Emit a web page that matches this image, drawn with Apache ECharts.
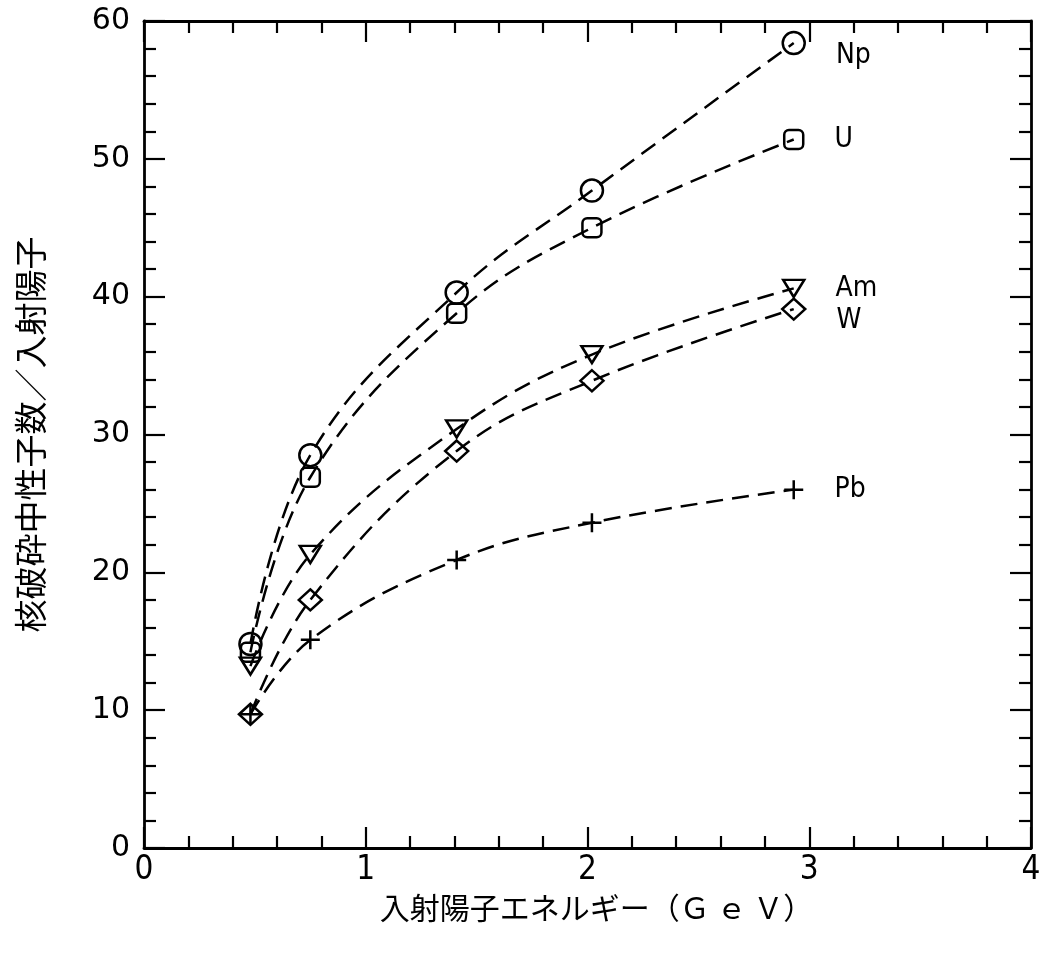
<!DOCTYPE html>
<html>
<head>
<meta charset="utf-8">
<script src="https://cdn.jsdelivr.net/npm/echarts@6/dist/echarts.min.js"></script>
<style>
html,body{margin:0;padding:0;background:#fff;}
#chart{width:1045px;height:960px;}
</style>
</head>
<body>
<div id="chart"></div>
<script>
// ---- data ----
const energies = [0.48, 0.75, 1.41, 2.02, 2.93];
const seriesNames = ['Np', 'U', 'Am', 'W', 'Pb'];
const npValues = [14.8, 28.5, 40.3, 47.7, 58.4];
const uValues  = [14.2, 26.9, 38.8, 45.0, 51.4];
const amValues = [13.2, 21.3, 30.4, 35.8, 40.6];
const wValues  = [9.7, 18.0, 28.8, 33.9, 39.1];
const pbValues = [9.7, 15.1, 20.9, 23.6, 26.0];
const xTickLabels = ['0', '1', '2', '3', '4'];
const yTickLabels = ['0', '10', '20', '30', '40', '50', '60'];
const xAxisTitle = '入射陽子エネルギー（Ｇ ｅ Ｖ）';
const yAxisTitle = '核破砕中性子数／入射陽子';

// ---- styles ----
const valuesByName = {Np: npValues, U: uValues, Am: amValues, W: wValues, Pb: pbValues};
const PLUS = 'path://M10,0L10,20M0,10L20,10';
const styleByName = {
  Np: {symbol: 'circle', size: 22, rotate: 0, labelDy: 13},
  U:  {symbol: 'roundRect', size: 19, rotate: 0, labelDy: 0},
  Am: {symbol: 'triangle', size: [21, 17], rotate: 180, labelDy: 0},
  W:  {symbol: 'diamond', size: [23, 21], rotate: 0, labelDy: 12},
  Pb: {symbol: PLUS, size: 19, rotate: 0, labelDy: 0}
};
const FONT = '"DejaVu Sans", "Liberation Sans", sans-serif';
const NARROW = '"Liberation Sans Narrow", "DejaVu Sans Condensed", "Liberation Sans", sans-serif';
const CJK = '"Noto Sans CJK JP", "Noto Sans CJK SC", sans-serif';

const series = seriesNames.map(name => {
  const vals = valuesByName[name];
  const st = styleByName[name];
  const data = vals.map((v, i) => {
    const item = {value: [energies[i], v]};
    if (i === vals.length - 1) {
      item.label = {
        show: true, position: 'right', distance: 30,
        offset: [0, st.labelDy], formatter: name,
        color: '#000', fontSize: 28, fontFamily: NARROW
      };
    }
    return item;
  });
  return {
    name: name, type: 'line', data: data,
    smooth: 0.4,
    symbol: st.symbol, symbolSize: st.size, symbolRotate: st.rotate,
    showAllSymbol: true,
    lineStyle: {color: '#000', width: 2.5, type: [17, 9]},
    itemStyle: {color: 'rgba(255,255,255,0)', borderColor: '#000', borderWidth: 2.5},
    label: {show: false},
    emphasis: {disabled: true},
    z: 3
  };
});

const baseAxisLine = {show: true, onZero: false, lineStyle: {color: '#000', width: 2.8}};
const baseTick = {show: true, inside: true, length: 21, lineStyle: {color: '#000', width: 2.2}};
const baseMinor = {show: true, splitNumber: 5, length: 12, lineStyle: {color: '#000', width: 2.2}};

const option = {
  backgroundColor: '#fff',
  animation: false,
  grid: {left: 144, right: 14, top: 21, bottom: 112, containLabel: false},
  xAxis: [
    {
      type: 'value', min: 0, max: 4, interval: 1, position: 'bottom',
      axisLine: baseAxisLine, axisTick: baseTick, minorTick: baseMinor,
      splitLine: {show: false},
      axisLabel: {
        margin: 6, color: '#000', fontSize: 33, fontFamily: NARROW,
        formatter: v => xTickLabels[Math.round(v)]
      },
      name: xAxisTitle, nameLocation: 'middle', nameGap: 45,
      nameTextStyle: {color: '#000', fontSize: 30, fontFamily: CJK, padding: [0, 0, 0, 18]}
    },
    {
      type: 'value', min: 0, max: 4, interval: 1, position: 'top',
      axisLine: baseAxisLine, axisTick: baseTick, minorTick: baseMinor,
      splitLine: {show: false}, axisLabel: {show: false}
    }
  ],
  yAxis: [
    {
      type: 'value', min: 0, max: 60, interval: 10, position: 'left',
      axisLine: baseAxisLine, axisTick: baseTick, minorTick: baseMinor,
      splitLine: {show: false},
      axisLabel: {
        margin: 14, color: '#000', fontSize: 30, fontFamily: FONT,
        formatter: v => yTickLabels[Math.round(v / 10)]
      },
      name: yAxisTitle, nameLocation: 'middle', nameGap: 97, nameRotate: 90,
      nameTextStyle: {color: '#000', fontSize: 33, fontFamily: CJK}
    },
    {
      type: 'value', min: 0, max: 60, interval: 10, position: 'right',
      axisLine: baseAxisLine, axisTick: baseTick, minorTick: baseMinor,
      splitLine: {show: false}, axisLabel: {show: false}
    }
  ],
  series: series
};

const chart = echarts.init(document.getElementById('chart'), null, {renderer: 'canvas'});
chart.setOption(option);
</script>
</body>
</html>
